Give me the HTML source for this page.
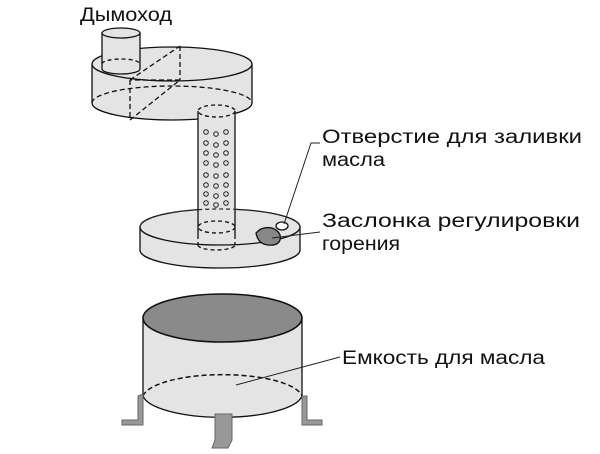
<!DOCTYPE html>
<html><head><meta charset="utf-8"><style>
html,body{margin:0;padding:0;background:#fff;}
svg{display:block}
text{font-family:"Liberation Sans",sans-serif;font-size:19px;fill:#111;}
</style></head><body>
<svg width="600" height="454" viewBox="0 0 600 454" xmlns="http://www.w3.org/2000/svg">
<g stroke="#111" stroke-width="1.3" fill="#e4e4e4">
<path d="M92,64 L92,103 A80,17 0 0 0 252,103 L252,64 Z"/>
<ellipse cx="172" cy="64" rx="80" ry="17"/>
<path d="M92,103 A80,17 0 0 1 252,103" fill="none" stroke-dasharray="5,3"/>
<path d="M130,80 L130,120 M180,46 L180,80 M130,120 L180,80 M130,80 L180,46 M180,80 L130,80" fill="none" stroke-dasharray="5,3"/>
<path d="M102,33 L102,69 A19,5 0 0 0 140,69 L140,33 Z"/>
<ellipse cx="121" cy="33" rx="19" ry="5"/>
<path d="M102,64 A19,5 0 0 1 140,64" fill="none" stroke-dasharray="4,3"/>
<path d="M140,227 L140,250 A80,18 0 0 0 300,250 L300,227 Z"/>
<ellipse cx="220" cy="227" rx="80" ry="18"/>
<rect x="198" y="111" width="37" height="124" stroke="none"/>
<line x1="198" y1="111" x2="198" y2="235"/>
<line x1="235" y1="111" x2="235" y2="235"/>
<ellipse cx="216.5" cy="111" rx="18.5" ry="6" fill="none" stroke-dasharray="4,3"/>
<ellipse cx="216.5" cy="227" rx="18.5" ry="6" fill="none" stroke-dasharray="4,3"/>
<path d="M140,227 A80,18 0 0 1 300,227" fill="none" stroke-dasharray="4,3" stroke="#333"/>
<path d="M198,235 L198,245 M235,235 L235,245 M198,245 A18.5,5 0 0 0 235,245" fill="none" stroke-dasharray="4,3"/>
<ellipse cx="282" cy="226" rx="6" ry="4" fill="#fff"/>
<path d="M256,233 Q262,226 272,228 Q282,232 280,240 Q278,246 268,245 Q258,244 256,233 Z" fill="#888"/>
<path d="M143,318 L143,396 A80,24 0 0 0 302,396 L302,318 Z"/>
<ellipse cx="222.5" cy="318" rx="79.5" ry="24" fill="#8a8a8a" stroke-width="1.6"/>
<path d="M143,396 A80,24 0 0 1 302,396" fill="none" stroke-dasharray="5,3" stroke-width="1.5"/>
</g>
<g fill="#999" stroke="#666" stroke-width="1">
<path d="M138,396 L143,394 L143,425 L122,425 L122,420 L138,420 Z"/>
<path d="M302,396 L307,396 L307,420 L322,420 L322,425 L302,425 Z"/>
<path d="M215,414 L232,414 L232,440 L228,448 L212,448 L215,440 Z"/>
</g>
<g fill="none" stroke="#222" stroke-width="1">
<circle cx="206" cy="132" r="2.3"/><circle cx="216" cy="134" r="2.3"/><circle cx="226" cy="132" r="2.3"/>
<circle cx="206" cy="143" r="2.3"/><circle cx="216" cy="145" r="2.3"/><circle cx="226" cy="143" r="2.3"/>
<circle cx="206" cy="153" r="2.3"/><circle cx="216" cy="155" r="2.3"/><circle cx="226" cy="153" r="2.3"/>
<circle cx="206" cy="163" r="2.3"/><circle cx="216" cy="165" r="2.3"/><circle cx="226" cy="163" r="2.3"/>
<circle cx="206" cy="175" r="2.3"/><circle cx="216" cy="176" r="2.3"/><circle cx="226" cy="175" r="2.3"/>
<circle cx="206" cy="185" r="2.3"/><circle cx="216" cy="186" r="2.3"/><circle cx="226" cy="185" r="2.3"/>
<circle cx="206" cy="194" r="2.3"/><circle cx="216" cy="196" r="2.3"/><circle cx="226" cy="194" r="2.3"/>
<circle cx="206" cy="203" r="2.3"/><circle cx="216" cy="205" r="2.3"/><circle cx="226" cy="203" r="2.3"/>
</g>
<g stroke="#222" stroke-width="1" fill="none">
<path d="M320,143 L311,143 L284,224"/>
<path d="M320,232 L272,238"/>
<path d="M340,357 L236,385"/>
</g>
<text x="80" y="21" textLength="92" lengthAdjust="spacingAndGlyphs">Дымоход</text>
<text x="322" y="143" textLength="260" lengthAdjust="spacingAndGlyphs">Отверстие для заливки</text>
<text x="322" y="166" textLength="63" lengthAdjust="spacingAndGlyphs">масла</text>
<text x="322" y="227" textLength="258" lengthAdjust="spacingAndGlyphs">Заслонка регулировки</text>
<text x="322" y="250" textLength="78" lengthAdjust="spacingAndGlyphs">горения</text>
<text x="342" y="364" textLength="203" lengthAdjust="spacingAndGlyphs">Емкость для масла</text>
</svg>
</body></html>
